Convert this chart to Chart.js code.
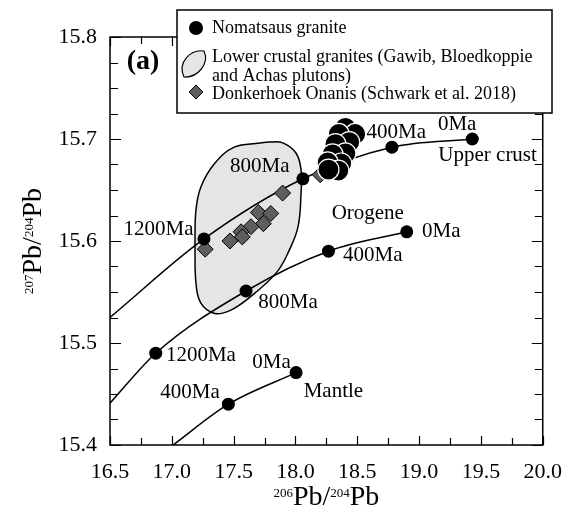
<!DOCTYPE html>
<html><head><meta charset="utf-8">
<script src="https://cdn.jsdelivr.net/npm/chart.js@4/dist/chart.umd.min.js"></script>
<style>html,body{margin:0;padding:0;background:#fff}</style>
</head><body>
<canvas id="c" width="576" height="519"></canvas>
<script>
// ---- data ----
const xTicks = [16.5, 17.0, 17.5, 18.0, 18.5, 19.0, 19.5, 20.0];
const yTicks = [15.4, 15.5, 15.6, 15.7, 15.8];

const nomX = [18.404, 18.483, 18.350, 18.435, 18.323, 18.404, 18.300, 18.370, 18.260, 18.347, 18.267];
const nomY = [15.711, 15.705, 15.705, 15.697, 15.695, 15.686, 15.685, 15.676, 15.677, 15.669, 15.670];

const donX = [17.896, 17.700, 17.800, 17.740, 17.640, 17.560, 17.570, 17.470, 17.270, 18.200];
const donY = [15.647, 15.628, 15.627, 15.617, 15.614, 15.609, 15.604, 15.600, 15.592, 15.665];

const fieldX = [17.187, 17.195, 17.235, 17.346, 17.473, 17.632, 17.846, 17.950, 18.021, 18.045, 18.045, 18.005, 17.902, 17.790, 17.711, 17.505, 17.346, 17.235, 17.195, 17.187];
const fieldY = [15.598, 15.559, 15.539, 15.529, 15.532, 15.545, 15.569, 15.591, 15.614, 15.647, 15.670, 15.686, 15.696, 15.697, 15.696, 15.692, 15.676, 15.653, 15.630, 15.598];

const upperX = [16.50, 17.26, 18.06, 18.78, 19.43];
const upperY = [15.525, 15.602, 15.661, 15.692, 15.700];
const orogX = [16.50, 16.87, 17.60, 18.267, 18.90];
const orogY = [15.441, 15.490, 15.551, 15.590, 15.609];
const mantX = [17.01, 17.457, 18.005];
const mantY = [15.400, 15.440, 15.471];

const ageX = [17.26, 18.06, 18.78, 19.43, 16.87, 17.60, 18.267, 18.90, 17.457, 18.005];
const ageY = [15.602, 15.661, 15.692, 15.700, 15.490, 15.551, 15.590, 15.609, 15.440, 15.471];

const annText = ['400Ma', '0Ma', 'Upper crust', '800Ma', '1200Ma', 'Orogene', '0Ma', '400Ma', '800Ma', '1200Ma', '0Ma', '400Ma', 'Mantle'];
const annX = [18.815, 19.308, 19.554, 17.711, 16.893, 18.585, 19.180, 18.625, 17.940, 17.235, 17.806, 17.147, 18.307];
const annY = [15.706, 15.714, 15.684, 15.673, 15.611, 15.627, 15.609, 15.586, 15.540, 15.488, 15.481, 15.451, 15.452];

const legendLabels = ['Nomatsaus granite', 'Lower crustal granites (Gawib, Bloedkoppie', 'and Achas plutons)', 'Donkerhoek Onanis (Schwark et al. 2018)'];

// ---- build ----
const pts = (xs, ys) => xs.map((v, i) => ({x: v, y: ys[i]}));
const F = 'Liberation Serif';

function drawSupText(ctx, parts, x, y, big, small, raise) {
  // parts: [ [text, isSup], ... ] drawn left to right from x on baseline y
  let cx = x;
  for (const [t, sup] of parts) {
    ctx.font = (sup ? small : big) + 'px "' + F + '"';
    ctx.fillText(t, cx, sup ? y - raise : y);
    cx += ctx.measureText(t).width;
  }
  return cx - x;
}
function supWidth(ctx, parts, big, small) {
  let w = 0;
  for (const [t, sup] of parts) { ctx.font = (sup ? small : big) + 'px "' + F + '"'; w += ctx.measureText(t).width; }
  return w;
}

const deco = {
  id: 'deco',
  afterDraw(chart) {
    const {ctx, chartArea: a, scales: {x, y}} = chart;
    ctx.save();
    // frame + inward ticks
    ctx.strokeStyle = '#000';
    ctx.lineWidth = 1.5;
    ctx.strokeRect(a.left, a.top, a.right - a.left, a.bottom - a.top);
    ctx.lineWidth = 1.2;
    ctx.beginPath();
    for (let k = 0; k <= 14; k++) {
      const v = 16.5 + k * 0.25;
      const px = Math.round(x.getPixelForValue(v)) + 0.5;
      const L = (k % 2 === 0) ? 9 : 7;
      ctx.moveTo(px, a.bottom); ctx.lineTo(px, a.bottom - L);
      ctx.moveTo(px, a.top); ctx.lineTo(px, a.top + L);
    }
    for (let k = 0; k <= 16; k++) {
      const v = 15.4 + k * 0.025;
      const py = Math.round(y.getPixelForValue(v)) + 0.5;
      const L = (k % 4 === 0) ? 11 : 8;
      ctx.moveTo(a.left, py); ctx.lineTo(a.left + L, py);
      ctx.moveTo(a.right, py); ctx.lineTo(a.right - L, py);
    }
    ctx.stroke();

    // annotations
    ctx.fillStyle = '#000';
    ctx.textAlign = 'center';
    ctx.textBaseline = 'middle';
    ctx.font = '21px "' + F + '"';
    annText.forEach((t, i) => ctx.fillText(t, x.getPixelForValue(annX[i]), y.getPixelForValue(annY[i])));
    ctx.font = 'bold 28px "' + F + '"';
    ctx.fillText('(a)', 143, 62);

    // legend
    ctx.fillStyle = '#fff';
    ctx.fillRect(177, 10, 375, 103);
    ctx.lineWidth = 1.5;
    ctx.strokeRect(177, 10, 375, 103);
    ctx.fillStyle = '#000';
    ctx.beginPath(); ctx.arc(196, 28, 7, 0, Math.PI * 2); ctx.fill();
    ctx.beginPath();
    ctx.moveTo(184, 77);
    ctx.bezierCurveTo(177, 62, 191, 49, 204, 51);
    ctx.bezierCurveTo(210, 64, 197, 78, 184, 77);
    ctx.closePath();
    ctx.fillStyle = '#e5e5e5'; ctx.fill();
    ctx.lineWidth = 1.2; ctx.strokeStyle = '#000'; ctx.stroke();
    ctx.beginPath();
    ctx.moveTo(196, 85); ctx.lineTo(203, 92); ctx.lineTo(196, 99); ctx.lineTo(189, 92); ctx.closePath();
    ctx.fillStyle = '#5e5e5e'; ctx.fill(); ctx.lineWidth = 1; ctx.stroke();
    ctx.fillStyle = '#000';
    ctx.textAlign = 'left';
    ctx.font = '18px "' + F + '"';
    const ly = [28, 57, 76, 94];
    legendLabels.forEach((t, i) => ctx.fillText(t, 212, ly[i]));

    // axis titles
    ctx.textBaseline = 'alphabetic';
    const xParts = [['206', true], ['Pb/', false], ['204', true], ['Pb', false]];
    const w = supWidth(ctx, xParts, 28, 13);
    drawSupText(ctx, xParts, (a.left + a.right) / 2 - w / 2, 505, 28, 13, 8);
    const yParts = [['207', true], ['Pb/', false], ['204', true], ['Pb', false]];
    const wy = supWidth(ctx, yParts, 28, 13);
    ctx.translate(41, (a.top + a.bottom) / 2);
    ctx.rotate(-Math.PI / 2);
    drawSupText(ctx, yParts, -wy / 2, 0, 28, 13, 8);
    ctx.restore();
  }
};

const tickFont = {family: F, size: 22};

new Chart(document.getElementById('c'), {
  type: 'scatter',
  data: {
    datasets: [
      {label: 'Nomatsaus granite', data: pts(nomX, nomY), pointRadius: 10.5, pointBackgroundColor: '#000', pointBorderColor: '#fff', pointBorderWidth: 1.2, order: 1},
      {label: 'ages', data: pts(ageX, ageY), pointRadius: 6.5, pointBackgroundColor: '#000', pointBorderColor: '#000', pointBorderWidth: 0, order: 2},
      {label: 'Donkerhoek Onanis', data: pts(donX, donY), pointStyle: 'rectRot', pointRadius: 8, pointBackgroundColor: '#5e5e5e', pointBorderColor: '#000', pointBorderWidth: 1, order: 3},
      {label: 'Upper crust', data: pts(upperX, upperY), showLine: true, pointRadius: 0, borderColor: '#000', borderWidth: 1.5, cubicInterpolationMode: 'monotone', order: 4},
      {label: 'Orogene', data: pts(orogX, orogY), showLine: true, pointRadius: 0, borderColor: '#000', borderWidth: 1.5, cubicInterpolationMode: 'monotone', order: 4},
      {label: 'Mantle', data: pts(mantX, mantY), showLine: true, pointRadius: 0, borderColor: '#000', borderWidth: 1.5, cubicInterpolationMode: 'monotone', order: 4},
      {label: 'Lower crustal granites', data: pts(fieldX, fieldY), showLine: true, pointRadius: 0, borderColor: '#000', borderWidth: 1.5, backgroundColor: '#e5e5e5', fill: 'shape', tension: 0.4, order: 10}
    ]
  },
  options: {
    responsive: false,
    animation: false,
    devicePixelRatio: 1,
    events: [],
    layout: {padding: {top: 37, right: 25, left: 0, bottom: 0}},
    plugins: {legend: {display: false}, tooltip: {enabled: false}},
    scales: {
      x: {
        type: 'linear', min: 16.5, max: 20.0,
        afterBuildTicks: s => { s.ticks = xTicks.map(v => ({value: v})); },
        afterFit: s => { s.height = 74; },
        grid: {display: false, drawTicks: false},
        border: {display: false},
        ticks: {font: tickFont, color: '#000', padding: 14, maxRotation: 0, autoSkip: false, callback: v => Number(v).toFixed(1)}
      },
      y: {
        type: 'linear', min: 15.4, max: 15.8,
        afterBuildTicks: s => { s.ticks = yTicks.map(v => ({value: v})); },
        afterFit: s => { s.width = 110; },
        grid: {display: false, drawTicks: false},
        border: {display: false},
        ticks: {font: tickFont, color: '#000', padding: 13, autoSkip: false, callback: v => Number(v).toFixed(1)}
      }
    }
  },
  plugins: [deco]
});
</script>
</body></html>
